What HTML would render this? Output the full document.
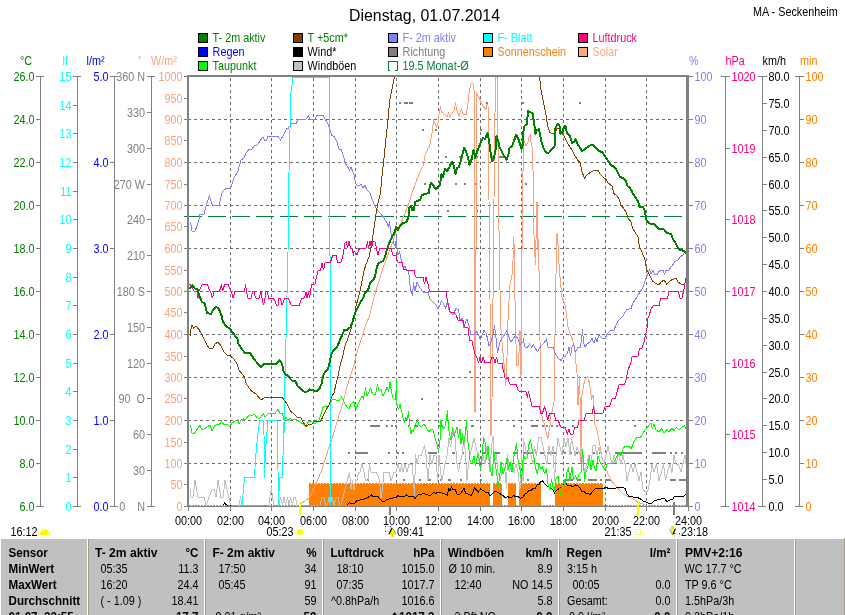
<!DOCTYPE html>
<html lang="de">
<head>
<meta charset="utf-8">
<title>Dienstag, 01.07.2014 - MA - Seckenheim</title>
<style>
html,body{margin:0;padding:0;background:#fff;}
body{width:845px;height:615px;overflow:hidden;position:relative;font-family:"Liberation Sans",sans-serif;}
svg{position:absolute;left:0;top:0;display:block;font-family:"Liberation Sans",sans-serif;font-size:12.5px;}
svg rect,svg line{shape-rendering:crispEdges;}
svg polyline,svg path{shape-rendering:crispEdges;fill:none;}
</style>
</head>
<body>
<svg width="845" height="615" viewBox="0 0 845 615">
<rect x="0" y="0" width="845" height="615" fill="#fff"/>
<text x="349" y="21" fill="#000" font-size="16" textLength="151" lengthAdjust="spacingAndGlyphs">Dienstag, 01.07.2014</text>
<text transform="translate(753 16) scale(0.865 1)" fill="#000">MA - Seckenheim</text>
<rect x="198" y="33" width="10" height="10" fill="#000"/>
<rect x="199" y="34" width="8" height="8" fill="#008000"/>
<text transform="translate(212.6 42) scale(0.865 1)" fill="#008000">T- 2m aktiv</text>
<rect x="293" y="33" width="10" height="10" fill="#000"/>
<rect x="294" y="34" width="8" height="8" fill="#804000"/>
<text transform="translate(307.6 42) scale(0.865 1)" fill="#008000">T +5cm*</text>
<rect x="388" y="33" width="10" height="10" fill="#000"/>
<rect x="389" y="34" width="8" height="8" fill="#8080ff"/>
<text transform="translate(402.6 42) scale(0.865 1)" fill="#8080ff">F- 2m aktiv</text>
<rect x="483" y="33" width="10" height="10" fill="#000"/>
<rect x="484" y="34" width="8" height="8" fill="#00ffff"/>
<text transform="translate(497.6 42) scale(0.865 1)" fill="#00ffff">F- Blatt</text>
<rect x="578" y="33" width="10" height="10" fill="#000"/>
<rect x="579" y="34" width="8" height="8" fill="#ff0080"/>
<text transform="translate(592.6 42) scale(0.865 1)" fill="#ff0080">Luftdruck</text>
<rect x="198" y="47" width="10" height="10" fill="#000"/>
<rect x="199" y="48" width="8" height="8" fill="#0000ff"/>
<text transform="translate(212.6 56) scale(0.865 1)" fill="#0000ff">Regen</text>
<rect x="293" y="47" width="10" height="10" fill="#000"/>
<rect x="294" y="48" width="8" height="8" fill="#000000"/>
<text transform="translate(307.6 56) scale(0.865 1)" fill="#000000">Wind*</text>
<rect x="388" y="47" width="10" height="10" fill="#000"/>
<rect x="389" y="48" width="8" height="8" fill="#808080"/>
<text transform="translate(402.6 56) scale(0.865 1)" fill="#808080">Richtung</text>
<rect x="483" y="47" width="10" height="10" fill="#000"/>
<rect x="484" y="48" width="8" height="8" fill="#ff8000"/>
<text transform="translate(497.6 56) scale(0.865 1)" fill="#ff8000">Sonnenschein</text>
<rect x="578" y="47" width="10" height="10" fill="#000"/>
<rect x="579" y="48" width="8" height="8" fill="#ffa87c"/>
<text transform="translate(592.6 56) scale(0.865 1)" fill="#ffa87c">Solar</text>
<rect x="198" y="61" width="10" height="10" fill="#000"/>
<rect x="199" y="62" width="8" height="8" fill="#00ff00"/>
<text transform="translate(212.6 70) scale(0.865 1)" fill="#008000">Taupunkt</text>
<rect x="293" y="61" width="10" height="10" fill="#000"/>
<rect x="294" y="62" width="8" height="8" fill="#c0c0c0"/>
<text transform="translate(307.6 70) scale(0.865 1)" fill="#000000">Windböen</text>
<rect x="388" y="61" width="10" height="1" fill="#008040"/>
<rect x="388" y="61" width="1" height="10" fill="#008040"/>
<rect x="397" y="61" width="1" height="10" fill="#008040"/>
<rect x="388" y="70" width="2" height="1" fill="#008040"/>
<rect x="395" y="70" width="3" height="1" fill="#008040"/>
<text transform="translate(402.6 70) scale(0.865 1)" fill="#008040">19.5 Monat-Ø</text>
<rect x="40" y="76" width="1" height="431" fill="#808080"/>
<rect x="36" y="76" width="8" height="1" fill="#808080"/>
<text transform="translate(34.5 81) scale(0.865 1)" fill="#008000" text-anchor="end">26.0</text>
<rect x="36" y="119" width="4" height="1" fill="#808080"/>
<text transform="translate(34.5 124) scale(0.865 1)" fill="#008000" text-anchor="end">24.0</text>
<rect x="36" y="162" width="4" height="1" fill="#808080"/>
<text transform="translate(34.5 167) scale(0.865 1)" fill="#008000" text-anchor="end">22.0</text>
<rect x="36" y="205" width="4" height="1" fill="#808080"/>
<text transform="translate(34.5 210) scale(0.865 1)" fill="#008000" text-anchor="end">20.0</text>
<rect x="36" y="248" width="4" height="1" fill="#808080"/>
<text transform="translate(34.5 253) scale(0.865 1)" fill="#008000" text-anchor="end">18.0</text>
<rect x="36" y="291" width="4" height="1" fill="#808080"/>
<text transform="translate(34.5 296) scale(0.865 1)" fill="#008000" text-anchor="end">16.0</text>
<rect x="36" y="334" width="4" height="1" fill="#808080"/>
<text transform="translate(34.5 339) scale(0.865 1)" fill="#008000" text-anchor="end">14.0</text>
<rect x="36" y="377" width="4" height="1" fill="#808080"/>
<text transform="translate(34.5 382) scale(0.865 1)" fill="#008000" text-anchor="end">12.0</text>
<rect x="36" y="420" width="4" height="1" fill="#808080"/>
<text transform="translate(34.5 425) scale(0.865 1)" fill="#008000" text-anchor="end">10.0</text>
<rect x="36" y="463" width="4" height="1" fill="#808080"/>
<text transform="translate(34.5 468) scale(0.865 1)" fill="#008000" text-anchor="end">8.0</text>
<rect x="36" y="506" width="8" height="1" fill="#808080"/>
<text transform="translate(34.5 511) scale(0.865 1)" fill="#008000" text-anchor="end">6.0</text>
<rect x="77" y="76" width="1" height="431" fill="#808080"/>
<rect x="73" y="76" width="8" height="1" fill="#808080"/>
<text transform="translate(71.5 81) scale(0.865 1)" fill="#00ffff" text-anchor="end">15</text>
<rect x="73" y="105" width="4" height="1" fill="#808080"/>
<text transform="translate(71.5 110) scale(0.865 1)" fill="#00ffff" text-anchor="end">14</text>
<rect x="73" y="133" width="4" height="1" fill="#808080"/>
<text transform="translate(71.5 138) scale(0.865 1)" fill="#00ffff" text-anchor="end">13</text>
<rect x="73" y="162" width="4" height="1" fill="#808080"/>
<text transform="translate(71.5 167) scale(0.865 1)" fill="#00ffff" text-anchor="end">12</text>
<rect x="73" y="191" width="4" height="1" fill="#808080"/>
<text transform="translate(71.5 196) scale(0.865 1)" fill="#00ffff" text-anchor="end">11</text>
<rect x="73" y="219" width="4" height="1" fill="#808080"/>
<text transform="translate(71.5 224) scale(0.865 1)" fill="#00ffff" text-anchor="end">10</text>
<rect x="73" y="248" width="4" height="1" fill="#808080"/>
<text transform="translate(71.5 253) scale(0.865 1)" fill="#00ffff" text-anchor="end">9</text>
<rect x="73" y="277" width="4" height="1" fill="#808080"/>
<text transform="translate(71.5 282) scale(0.865 1)" fill="#00ffff" text-anchor="end">8</text>
<rect x="73" y="305" width="4" height="1" fill="#808080"/>
<text transform="translate(71.5 310) scale(0.865 1)" fill="#00ffff" text-anchor="end">7</text>
<rect x="73" y="334" width="4" height="1" fill="#808080"/>
<text transform="translate(71.5 339) scale(0.865 1)" fill="#00ffff" text-anchor="end">6</text>
<rect x="73" y="363" width="4" height="1" fill="#808080"/>
<text transform="translate(71.5 368) scale(0.865 1)" fill="#00ffff" text-anchor="end">5</text>
<rect x="73" y="391" width="4" height="1" fill="#808080"/>
<text transform="translate(71.5 396) scale(0.865 1)" fill="#00ffff" text-anchor="end">4</text>
<rect x="73" y="420" width="4" height="1" fill="#808080"/>
<text transform="translate(71.5 425) scale(0.865 1)" fill="#00ffff" text-anchor="end">3</text>
<rect x="73" y="449" width="4" height="1" fill="#808080"/>
<text transform="translate(71.5 454) scale(0.865 1)" fill="#00ffff" text-anchor="end">2</text>
<rect x="73" y="477" width="4" height="1" fill="#808080"/>
<text transform="translate(71.5 482) scale(0.865 1)" fill="#00ffff" text-anchor="end">1</text>
<rect x="73" y="506" width="8" height="1" fill="#808080"/>
<text transform="translate(71.5 511) scale(0.865 1)" fill="#00ffff" text-anchor="end">0</text>
<rect x="114" y="76" width="1" height="431" fill="#808080"/>
<rect x="110" y="76" width="8" height="1" fill="#808080"/>
<text transform="translate(108.5 81) scale(0.865 1)" fill="#0000ff" text-anchor="end">5.0</text>
<rect x="110" y="162" width="4" height="1" fill="#808080"/>
<text transform="translate(108.5 167) scale(0.865 1)" fill="#0000ff" text-anchor="end">4.0</text>
<rect x="110" y="248" width="4" height="1" fill="#808080"/>
<text transform="translate(108.5 253) scale(0.865 1)" fill="#0000ff" text-anchor="end">3.0</text>
<rect x="110" y="334" width="4" height="1" fill="#808080"/>
<text transform="translate(108.5 339) scale(0.865 1)" fill="#0000ff" text-anchor="end">2.0</text>
<rect x="110" y="420" width="4" height="1" fill="#808080"/>
<text transform="translate(108.5 425) scale(0.865 1)" fill="#0000ff" text-anchor="end">1.0</text>
<rect x="110" y="506" width="8" height="1" fill="#808080"/>
<text transform="translate(108.5 511) scale(0.865 1)" fill="#0000ff" text-anchor="end">0.0</text>
<rect x="151" y="76" width="1" height="431" fill="#808080"/>
<rect x="147" y="76" width="8" height="1" fill="#808080"/>
<text transform="translate(145 81) scale(0.865 1)" fill="#808080" text-anchor="end">360 N</text>
<rect x="147" y="112" width="4" height="1" fill="#808080"/>
<text transform="translate(145 117) scale(0.865 1)" fill="#808080" text-anchor="end">330</text>
<rect x="147" y="148" width="4" height="1" fill="#808080"/>
<text transform="translate(145 153) scale(0.865 1)" fill="#808080" text-anchor="end">300</text>
<rect x="147" y="184" width="4" height="1" fill="#808080"/>
<text transform="translate(145 189) scale(0.865 1)" fill="#808080" text-anchor="end">270 W</text>
<rect x="147" y="219" width="4" height="1" fill="#808080"/>
<text transform="translate(145 224) scale(0.865 1)" fill="#808080" text-anchor="end">240</text>
<rect x="147" y="255" width="4" height="1" fill="#808080"/>
<text transform="translate(145 260) scale(0.865 1)" fill="#808080" text-anchor="end">210</text>
<rect x="147" y="291" width="4" height="1" fill="#808080"/>
<text transform="translate(145 296) scale(0.865 1)" fill="#808080" text-anchor="end">180 S</text>
<rect x="147" y="327" width="4" height="1" fill="#808080"/>
<text transform="translate(145 332) scale(0.865 1)" fill="#808080" text-anchor="end">150</text>
<rect x="147" y="363" width="4" height="1" fill="#808080"/>
<text transform="translate(145 368) scale(0.865 1)" fill="#808080" text-anchor="end">120</text>
<rect x="147" y="398" width="4" height="1" fill="#808080"/>
<text transform="translate(145 403) scale(0.865 1)" fill="#808080" text-anchor="end">90  O</text>
<rect x="147" y="434" width="4" height="1" fill="#808080"/>
<text transform="translate(145 439) scale(0.865 1)" fill="#808080" text-anchor="end">60</text>
<rect x="147" y="470" width="4" height="1" fill="#808080"/>
<text transform="translate(145 475) scale(0.865 1)" fill="#808080" text-anchor="end">30</text>
<rect x="147" y="506" width="8" height="1" fill="#808080"/>
<text transform="translate(145 511) scale(0.865 1)" fill="#808080" text-anchor="end">0    N</text>
<rect x="184" y="76" width="4" height="1" fill="#808080"/>
<text transform="translate(182.5 81) scale(0.865 1)" fill="#ffa07a" text-anchor="end">1000</text>
<rect x="184" y="98" width="4" height="1" fill="#808080"/>
<text transform="translate(182.5 103) scale(0.865 1)" fill="#ffa07a" text-anchor="end">950</text>
<rect x="184" y="119" width="4" height="1" fill="#808080"/>
<text transform="translate(182.5 124) scale(0.865 1)" fill="#ffa07a" text-anchor="end">900</text>
<rect x="184" y="140" width="4" height="1" fill="#808080"/>
<text transform="translate(182.5 145) scale(0.865 1)" fill="#ffa07a" text-anchor="end">850</text>
<rect x="184" y="162" width="4" height="1" fill="#808080"/>
<text transform="translate(182.5 167) scale(0.865 1)" fill="#ffa07a" text-anchor="end">800</text>
<rect x="184" y="184" width="4" height="1" fill="#808080"/>
<text transform="translate(182.5 189) scale(0.865 1)" fill="#ffa07a" text-anchor="end">750</text>
<rect x="184" y="205" width="4" height="1" fill="#808080"/>
<text transform="translate(182.5 210) scale(0.865 1)" fill="#ffa07a" text-anchor="end">700</text>
<rect x="184" y="226" width="4" height="1" fill="#808080"/>
<text transform="translate(182.5 231) scale(0.865 1)" fill="#ffa07a" text-anchor="end">650</text>
<rect x="184" y="248" width="4" height="1" fill="#808080"/>
<text transform="translate(182.5 253) scale(0.865 1)" fill="#ffa07a" text-anchor="end">600</text>
<rect x="184" y="270" width="4" height="1" fill="#808080"/>
<text transform="translate(182.5 275) scale(0.865 1)" fill="#ffa07a" text-anchor="end">550</text>
<rect x="184" y="291" width="4" height="1" fill="#808080"/>
<text transform="translate(182.5 296) scale(0.865 1)" fill="#ffa07a" text-anchor="end">500</text>
<rect x="184" y="312" width="4" height="1" fill="#808080"/>
<text transform="translate(182.5 317) scale(0.865 1)" fill="#ffa07a" text-anchor="end">450</text>
<rect x="184" y="334" width="4" height="1" fill="#808080"/>
<text transform="translate(182.5 339) scale(0.865 1)" fill="#ffa07a" text-anchor="end">400</text>
<rect x="184" y="356" width="4" height="1" fill="#808080"/>
<text transform="translate(182.5 361) scale(0.865 1)" fill="#ffa07a" text-anchor="end">350</text>
<rect x="184" y="377" width="4" height="1" fill="#808080"/>
<text transform="translate(182.5 382) scale(0.865 1)" fill="#ffa07a" text-anchor="end">300</text>
<rect x="184" y="398" width="4" height="1" fill="#808080"/>
<text transform="translate(182.5 403) scale(0.865 1)" fill="#ffa07a" text-anchor="end">250</text>
<rect x="184" y="420" width="4" height="1" fill="#808080"/>
<text transform="translate(182.5 425) scale(0.865 1)" fill="#ffa07a" text-anchor="end">200</text>
<rect x="184" y="442" width="4" height="1" fill="#808080"/>
<text transform="translate(182.5 447) scale(0.865 1)" fill="#ffa07a" text-anchor="end">150</text>
<rect x="184" y="463" width="4" height="1" fill="#808080"/>
<text transform="translate(182.5 468) scale(0.865 1)" fill="#ffa07a" text-anchor="end">100</text>
<rect x="184" y="484" width="4" height="1" fill="#808080"/>
<text transform="translate(182.5 489) scale(0.865 1)" fill="#ffa07a" text-anchor="end">50</text>
<rect x="184" y="506" width="4" height="1" fill="#808080"/>
<text transform="translate(182.5 511) scale(0.865 1)" fill="#ffa07a" text-anchor="end">0</text>
<text transform="translate(20 65) scale(0.865 1)" fill="#008000">°C</text>
<text transform="translate(62.5 65) scale(0.865 1)" fill="#00ffff">lf</text>
<text transform="translate(86.5 65) scale(0.865 1)" fill="#0000ff">l/m²</text>
<text x="138" y="62" fill="#808080" font-size="8">°</text>
<text transform="translate(151 65) scale(0.865 1)" fill="#ffa07a">W/m²</text>
<text transform="translate(689 65) scale(0.865 1)" fill="#8080ff">%</text>
<text transform="translate(725.5 65) scale(0.865 1)" fill="#ff0080">hPa</text>
<text transform="translate(762.5 65) scale(0.865 1)" fill="#000">km/h</text>
<text transform="translate(800 65) scale(0.865 1)" fill="#ff8000">min</text>
<rect x="688" y="76" width="5" height="1" fill="#808080"/>
<text transform="translate(694.5 81) scale(0.865 1)" fill="#8080ff">100</text>
<rect x="688" y="119" width="5" height="1" fill="#808080"/>
<text transform="translate(694.5 124) scale(0.865 1)" fill="#8080ff">90</text>
<rect x="688" y="162" width="5" height="1" fill="#808080"/>
<text transform="translate(694.5 167) scale(0.865 1)" fill="#8080ff">80</text>
<rect x="688" y="205" width="5" height="1" fill="#808080"/>
<text transform="translate(694.5 210) scale(0.865 1)" fill="#8080ff">70</text>
<rect x="688" y="248" width="5" height="1" fill="#808080"/>
<text transform="translate(694.5 253) scale(0.865 1)" fill="#8080ff">60</text>
<rect x="688" y="291" width="5" height="1" fill="#808080"/>
<text transform="translate(694.5 296) scale(0.865 1)" fill="#8080ff">50</text>
<rect x="688" y="334" width="5" height="1" fill="#808080"/>
<text transform="translate(694.5 339) scale(0.865 1)" fill="#8080ff">40</text>
<rect x="688" y="377" width="5" height="1" fill="#808080"/>
<text transform="translate(694.5 382) scale(0.865 1)" fill="#8080ff">30</text>
<rect x="688" y="420" width="5" height="1" fill="#808080"/>
<text transform="translate(694.5 425) scale(0.865 1)" fill="#8080ff">20</text>
<rect x="688" y="463" width="5" height="1" fill="#808080"/>
<text transform="translate(694.5 468) scale(0.865 1)" fill="#8080ff">10</text>
<rect x="688" y="506" width="4" height="1" fill="#808080"/>
<text transform="translate(694.5 511) scale(0.865 1)" fill="#8080ff">0</text>
<rect x="725" y="76" width="1" height="431" fill="#808080"/>
<rect x="721" y="76" width="9" height="1" fill="#808080"/>
<text transform="translate(731.5 81) scale(0.865 1)" fill="#ff0080">1020</text>
<rect x="725" y="148" width="5" height="1" fill="#808080"/>
<text transform="translate(731.5 153) scale(0.865 1)" fill="#ff0080">1019</text>
<rect x="725" y="219" width="5" height="1" fill="#808080"/>
<text transform="translate(731.5 224) scale(0.865 1)" fill="#ff0080">1018</text>
<rect x="725" y="291" width="5" height="1" fill="#808080"/>
<text transform="translate(731.5 296) scale(0.865 1)" fill="#ff0080">1017</text>
<rect x="725" y="363" width="5" height="1" fill="#808080"/>
<text transform="translate(731.5 368) scale(0.865 1)" fill="#ff0080">1016</text>
<rect x="725" y="434" width="5" height="1" fill="#808080"/>
<text transform="translate(731.5 439) scale(0.865 1)" fill="#ff0080">1015</text>
<rect x="721" y="506" width="8" height="1" fill="#808080"/>
<text transform="translate(731.5 511) scale(0.865 1)" fill="#ff0080">1014</text>
<rect x="762" y="76" width="1" height="431" fill="#808080"/>
<rect x="758" y="76" width="9" height="1" fill="#808080"/>
<text transform="translate(768.5 81) scale(0.865 1)" fill="#000">80.0</text>
<rect x="762" y="103" width="5" height="1" fill="#808080"/>
<text transform="translate(768.5 108) scale(0.865 1)" fill="#000">75.0</text>
<rect x="762" y="130" width="5" height="1" fill="#808080"/>
<text transform="translate(768.5 135) scale(0.865 1)" fill="#000">70.0</text>
<rect x="762" y="157" width="5" height="1" fill="#808080"/>
<text transform="translate(768.5 162) scale(0.865 1)" fill="#000">65.0</text>
<rect x="762" y="184" width="5" height="1" fill="#808080"/>
<text transform="translate(768.5 189) scale(0.865 1)" fill="#000">60.0</text>
<rect x="762" y="210" width="5" height="1" fill="#808080"/>
<text transform="translate(768.5 215) scale(0.865 1)" fill="#000">55.0</text>
<rect x="762" y="237" width="5" height="1" fill="#808080"/>
<text transform="translate(768.5 242) scale(0.865 1)" fill="#000">50.0</text>
<rect x="762" y="264" width="5" height="1" fill="#808080"/>
<text transform="translate(768.5 269) scale(0.865 1)" fill="#000">45.0</text>
<rect x="762" y="291" width="5" height="1" fill="#808080"/>
<text transform="translate(768.5 296) scale(0.865 1)" fill="#000">40.0</text>
<rect x="762" y="318" width="5" height="1" fill="#808080"/>
<text transform="translate(768.5 323) scale(0.865 1)" fill="#000">35.0</text>
<rect x="762" y="345" width="5" height="1" fill="#808080"/>
<text transform="translate(768.5 350) scale(0.865 1)" fill="#000">30.0</text>
<rect x="762" y="372" width="5" height="1" fill="#808080"/>
<text transform="translate(768.5 377) scale(0.865 1)" fill="#000">25.0</text>
<rect x="762" y="398" width="5" height="1" fill="#808080"/>
<text transform="translate(768.5 403) scale(0.865 1)" fill="#000">20.0</text>
<rect x="762" y="425" width="5" height="1" fill="#808080"/>
<text transform="translate(768.5 430) scale(0.865 1)" fill="#000">15.0</text>
<rect x="762" y="452" width="5" height="1" fill="#808080"/>
<text transform="translate(768.5 457) scale(0.865 1)" fill="#000">10.0</text>
<rect x="762" y="479" width="5" height="1" fill="#808080"/>
<text transform="translate(768.5 484) scale(0.865 1)" fill="#000">5.0</text>
<rect x="758" y="506" width="8" height="1" fill="#808080"/>
<text transform="translate(768.5 511) scale(0.865 1)" fill="#000">0.0</text>
<rect x="799" y="76" width="1" height="431" fill="#808080"/>
<rect x="795" y="76" width="9" height="1" fill="#808080"/>
<text transform="translate(805.5 81) scale(0.865 1)" fill="#ff8000">100</text>
<rect x="799" y="119" width="5" height="1" fill="#808080"/>
<text transform="translate(805.5 124) scale(0.865 1)" fill="#ff8000">90</text>
<rect x="799" y="162" width="5" height="1" fill="#808080"/>
<text transform="translate(805.5 167) scale(0.865 1)" fill="#ff8000">80</text>
<rect x="799" y="205" width="5" height="1" fill="#808080"/>
<text transform="translate(805.5 210) scale(0.865 1)" fill="#ff8000">70</text>
<rect x="799" y="248" width="5" height="1" fill="#808080"/>
<text transform="translate(805.5 253) scale(0.865 1)" fill="#ff8000">60</text>
<rect x="799" y="291" width="5" height="1" fill="#808080"/>
<text transform="translate(805.5 296) scale(0.865 1)" fill="#ff8000">50</text>
<rect x="799" y="334" width="5" height="1" fill="#808080"/>
<text transform="translate(805.5 339) scale(0.865 1)" fill="#ff8000">40</text>
<rect x="799" y="377" width="5" height="1" fill="#808080"/>
<text transform="translate(805.5 382) scale(0.865 1)" fill="#ff8000">30</text>
<rect x="799" y="420" width="5" height="1" fill="#808080"/>
<text transform="translate(805.5 425) scale(0.865 1)" fill="#ff8000">20</text>
<rect x="799" y="463" width="5" height="1" fill="#808080"/>
<text transform="translate(805.5 468) scale(0.865 1)" fill="#ff8000">10</text>
<rect x="795" y="506" width="8" height="1" fill="#808080"/>
<text transform="translate(805.5 511) scale(0.865 1)" fill="#ff8000">0</text>
<g id="grid">
<line x1="188" y1="119.5" x2="686" y2="119.5" stroke="#6c6c6c" stroke-width="1" stroke-dasharray="3 3"/>
<line x1="188" y1="162.5" x2="686" y2="162.5" stroke="#6c6c6c" stroke-width="1" stroke-dasharray="3 3"/>
<line x1="188" y1="205.5" x2="686" y2="205.5" stroke="#6c6c6c" stroke-width="1" stroke-dasharray="3 3"/>
<line x1="188" y1="248.5" x2="686" y2="248.5" stroke="#6c6c6c" stroke-width="1" stroke-dasharray="3 3"/>
<line x1="188" y1="291.5" x2="686" y2="291.5" stroke="#6c6c6c" stroke-width="1" stroke-dasharray="3 3"/>
<line x1="188" y1="334.5" x2="686" y2="334.5" stroke="#6c6c6c" stroke-width="1" stroke-dasharray="3 3"/>
<line x1="188" y1="377.5" x2="686" y2="377.5" stroke="#6c6c6c" stroke-width="1" stroke-dasharray="3 3"/>
<line x1="188" y1="420.5" x2="686" y2="420.5" stroke="#6c6c6c" stroke-width="1" stroke-dasharray="3 3"/>
<line x1="188" y1="463.5" x2="686" y2="463.5" stroke="#6c6c6c" stroke-width="1" stroke-dasharray="3 3"/>
<line x1="230.5" y1="78" x2="230.5" y2="506" stroke="#6c6c6c" stroke-width="1" stroke-dasharray="3 3"/>
<line x1="271.5" y1="78" x2="271.5" y2="506" stroke="#6c6c6c" stroke-width="1" stroke-dasharray="3 3"/>
<line x1="313.5" y1="78" x2="313.5" y2="506" stroke="#6c6c6c" stroke-width="1" stroke-dasharray="3 3"/>
<line x1="355.5" y1="78" x2="355.5" y2="506" stroke="#6c6c6c" stroke-width="1" stroke-dasharray="3 3"/>
<line x1="396.5" y1="78" x2="396.5" y2="506" stroke="#6c6c6c" stroke-width="1" stroke-dasharray="3 3"/>
<line x1="438.5" y1="78" x2="438.5" y2="506" stroke="#6c6c6c" stroke-width="1" stroke-dasharray="3 3"/>
<line x1="480.5" y1="78" x2="480.5" y2="506" stroke="#6c6c6c" stroke-width="1" stroke-dasharray="3 3"/>
<line x1="521.5" y1="78" x2="521.5" y2="506" stroke="#6c6c6c" stroke-width="1" stroke-dasharray="3 3"/>
<line x1="563.5" y1="78" x2="563.5" y2="506" stroke="#6c6c6c" stroke-width="1" stroke-dasharray="3 3"/>
<line x1="605.5" y1="78" x2="605.5" y2="506" stroke="#6c6c6c" stroke-width="1" stroke-dasharray="3 3"/>
<line x1="646.5" y1="78" x2="646.5" y2="506" stroke="#6c6c6c" stroke-width="1" stroke-dasharray="3 3"/>
</g>
<g id="curves">
<rect x="309" y="484" width="181" height="22" fill="#ff8000"/>
<line x1="309" y1="483.5" x2="490" y2="483.5" stroke="#ff8000" stroke-width="1" stroke-dasharray="2 1"/>
<rect x="493" y="484" width="9" height="22" fill="#ff8000"/>
<line x1="493" y1="483.5" x2="502" y2="483.5" stroke="#ff8000" stroke-width="1" stroke-dasharray="2 1"/>
<rect x="508" y="484" width="8" height="22" fill="#ff8000"/>
<line x1="508" y1="483.5" x2="516" y2="483.5" stroke="#ff8000" stroke-width="1" stroke-dasharray="2 1"/>
<rect x="519" y="484" width="22" height="22" fill="#ff8000"/>
<line x1="519" y1="483.5" x2="541" y2="483.5" stroke="#ff8000" stroke-width="1" stroke-dasharray="2 1"/>
<rect x="555" y="484" width="48" height="22" fill="#ff8000"/>
<line x1="555" y1="483.5" x2="603" y2="483.5" stroke="#ff8000" stroke-width="1" stroke-dasharray="2 1"/>
<line x1="184" y1="216.5" x2="683" y2="216.5" stroke="#008040" stroke-width="1" stroke-dasharray="18 6"/>
<rect x="399" y="102" width="2" height="2" fill="#808080"/>
<rect x="404" y="102" width="4" height="2" fill="#808080"/>
<rect x="409" y="102" width="4" height="2" fill="#808080"/>
<rect x="480" y="102" width="2" height="2" fill="#808080"/>
<rect x="486" y="102" width="2" height="2" fill="#808080"/>
<rect x="522" y="102" width="2" height="2" fill="#808080"/>
<rect x="579" y="102" width="2" height="2" fill="#808080"/>
<rect x="422" y="129" width="2" height="2" fill="#808080"/>
<rect x="435" y="129" width="2" height="2" fill="#808080"/>
<rect x="480" y="129" width="2" height="2" fill="#808080"/>
<rect x="445" y="156" width="2" height="2" fill="#808080"/>
<rect x="459" y="156" width="2" height="2" fill="#808080"/>
<rect x="476" y="156" width="2" height="2" fill="#808080"/>
<rect x="491" y="156" width="2" height="2" fill="#808080"/>
<rect x="498" y="156" width="6" height="2" fill="#808080"/>
<rect x="424" y="183" width="2" height="2" fill="#808080"/>
<rect x="455" y="183" width="2" height="2" fill="#808080"/>
<rect x="464" y="183" width="2" height="2" fill="#808080"/>
<rect x="474" y="183" width="2" height="2" fill="#808080"/>
<rect x="525" y="183" width="2" height="2" fill="#808080"/>
<rect x="447" y="210" width="2" height="2" fill="#808080"/>
<rect x="476" y="210" width="2" height="2" fill="#808080"/>
<rect x="469" y="371" width="2" height="2" fill="#808080"/>
<rect x="421" y="398" width="2" height="2" fill="#808080"/>
<rect x="370" y="425" width="10" height="2" fill="#808080"/>
<rect x="386" y="425" width="2" height="2" fill="#808080"/>
<rect x="391" y="425" width="2" height="2" fill="#808080"/>
<rect x="395" y="425" width="2" height="2" fill="#808080"/>
<rect x="408" y="425" width="2" height="2" fill="#808080"/>
<rect x="415" y="425" width="3" height="2" fill="#808080"/>
<rect x="438" y="425" width="5" height="2" fill="#808080"/>
<rect x="471" y="425" width="3" height="2" fill="#808080"/>
<rect x="513" y="425" width="2" height="2" fill="#808080"/>
<rect x="531" y="425" width="7" height="2" fill="#808080"/>
<rect x="542" y="425" width="2" height="2" fill="#808080"/>
<rect x="546" y="425" width="2" height="2" fill="#808080"/>
<rect x="551" y="425" width="2" height="2" fill="#808080"/>
<rect x="556" y="425" width="2" height="2" fill="#808080"/>
<rect x="572" y="425" width="2" height="2" fill="#808080"/>
<rect x="634" y="425" width="2" height="2" fill="#808080"/>
<rect x="348" y="452" width="2" height="2" fill="#808080"/>
<rect x="355" y="452" width="13" height="2" fill="#808080"/>
<rect x="388" y="452" width="2" height="2" fill="#808080"/>
<rect x="397" y="452" width="2" height="2" fill="#808080"/>
<rect x="402" y="452" width="2" height="2" fill="#808080"/>
<rect x="428" y="452" width="9" height="2" fill="#808080"/>
<rect x="452" y="452" width="3" height="2" fill="#808080"/>
<rect x="462" y="452" width="2" height="2" fill="#808080"/>
<rect x="482" y="452" width="6" height="2" fill="#808080"/>
<rect x="495" y="452" width="5" height="2" fill="#808080"/>
<rect x="513" y="452" width="4" height="2" fill="#808080"/>
<rect x="524" y="452" width="9" height="2" fill="#808080"/>
<rect x="535" y="452" width="2" height="2" fill="#808080"/>
<rect x="540" y="452" width="4" height="2" fill="#808080"/>
<rect x="547" y="452" width="9" height="2" fill="#808080"/>
<rect x="564" y="452" width="2" height="2" fill="#808080"/>
<rect x="570" y="452" width="2" height="2" fill="#808080"/>
<rect x="576" y="452" width="2" height="2" fill="#808080"/>
<rect x="593" y="452" width="2" height="2" fill="#808080"/>
<rect x="599" y="452" width="3" height="2" fill="#808080"/>
<rect x="615" y="452" width="27" height="2" fill="#808080"/>
<rect x="652" y="452" width="14" height="2" fill="#808080"/>
<rect x="670" y="452" width="2" height="2" fill="#808080"/>
<rect x="675" y="452" width="2" height="2" fill="#808080"/>
<rect x="681" y="452" width="2" height="2" fill="#808080"/>
<rect x="367" y="479" width="2" height="2" fill="#808080"/>
<rect x="403" y="479" width="2" height="2" fill="#808080"/>
<rect x="419" y="479" width="2" height="2" fill="#808080"/>
<rect x="428" y="479" width="3" height="2" fill="#808080"/>
<rect x="440" y="479" width="2" height="2" fill="#808080"/>
<rect x="448" y="479" width="3" height="2" fill="#808080"/>
<rect x="460" y="479" width="2" height="2" fill="#808080"/>
<rect x="480" y="479" width="2" height="2" fill="#808080"/>
<rect x="527" y="479" width="2" height="2" fill="#808080"/>
<rect x="564" y="479" width="9" height="2" fill="#808080"/>
<rect x="577" y="479" width="4" height="2" fill="#808080"/>
<rect x="588" y="479" width="9" height="2" fill="#808080"/>
<rect x="600" y="479" width="2" height="2" fill="#808080"/>
<rect x="605" y="479" width="6" height="2" fill="#808080"/>
<rect x="670" y="479" width="6" height="2" fill="#808080"/>
<rect x="679" y="479" width="7" height="2" fill="#808080"/>
<polyline points="299.5,504 303,502.5 309,498 315,486 321,472 325,460 330,444 332,439 337,422 343,402 349,380 354,365 356,356 359,346 363,334 366,324 369.5,316 374,297 379,281 383,268 388,255 393,241 397,229 401,223 405,213 409,203 412,193 416,182 420,172 423,166 425,156 428,148 429.5,147 431,138 432.5,130 433.5,120 435,123 436.5,128 438,123 439,114 440.5,107 441.5,112 444,114 447,117 448.5,113 450,116.5 452.5,113 454,111 455.5,103 457,111 459,116 460.5,112 461.5,109 463,114 466.5,114 468,103 469.5,90 471,84 473,83.5 474,90 474.5,412 475.5,412 476.5,92.5 477.5,95 479,97.5 481,102.5 483.5,107 486,109.5 487,104.5 488,105 489,200 490,300 490.5,400 491,436 492,400 493.5,250 494.5,150 495.5,77 497,77 497.5,90 498.5,200 500,290 501,330 504.5,370 505.5,386 506.5,375 508,320 509,300 510,285 512,275 513,260 513.5,237 514.5,250 515,300 516.5,365.5 518.5,365.5 520,330 521,377 521.5,300 522.5,200 523.5,143.5 524.5,142 526,145.5 528,142 529,137 530.5,134.5 531,142 532,147 533,170 533.5,220 534.5,249 535.5,265 536,240 537,202 537.5,250 538.5,240 539.5,300 540.5,380 541,412 543,420 544.5,425 546,432 548,438.5 548.5,433.5 550,425 551,415 552.5,410 554,402 554.5,370 555.5,300 556.5,250 557,233.5 558,245 559,264 559.5,270 560.5,283.5 562,297 564,302 565.5,307 567,318.5 568,327 569.5,332 572,338.5 573.5,343.5 575,352 576,364 577,373 577.5,392 578,405 579,386 579.5,377 580,395 580.5,445 581,462 581.5,440 582,395 584,383.5 585.5,378.5 587.5,376.5 589,381.5 590.5,390 591.5,400 593,395 594,407 595,425 596.5,428.5 598,435 600,446 602,458 605,466 608,474 611,480 614,484 617,487 620,491 623,494 627,496 631,498 635,500 638,502 641,503.5 645,504.5" stroke="#ffa07a" stroke-width="1" stroke-linejoin="round"/>
<polyline points="190,489 191,497 193,497 195,480.5 196.5,489 198,497 204,497.5 206,505 207.5,502 209,497 212,490 214,489 216,497 218,480.5 219.5,489 221,497.5 223,497.5 225,480.5 227,490 229,498 230.5,505 239,505 240.5,497 242,505 269,505 270,497 271.5,488 272.5,497 274,505 279,505 280.5,497.5 282.5,505 284,497.5 285.5,505 287.5,497.5 289,505 290.5,497.5 292.5,505 294,497.5 295.5,498 297,505 320,505 322,497.5 324,497.5 325.5,505 327.5,505 329,497.5 330.5,505 332,497.5 334,505 336,497.5 338,497.5 339.5,505 341,505 343,497.5 345,489 347,481 349.5,472.5 351,489 352.5,480.5 354,490 354,489 355.5,480 357,480.5 358.5,472 360,472 362,464 364,472 365.5,480.5 368,480.5 369.5,464 371,472 376,472.5 378,476 379.5,480.5 381,498 382.5,489 384,472.5 389,472.5 391,480.5 394,472.5 396,472 398,464 400,472 401.5,464 403,472 405,464 407,472 409,464 412,464 413.5,480.5 414.5,496 415.5,455 417,463.5 419,455 421,455.5 423,450 424.5,446 426,455 428,480.5 430,455 432,464 434,455 436,455.5 437.5,480.5 439,455 440.5,472 442,480.5 443.5,472 445,464 447,455.5 449,438 450.5,447 452,438 453.5,429 455,438 457,464 458.5,472 460,464 462,455 464,438 465.5,455 467,480.5 468.5,464 470,455 472,447 474,438 476,447 478,455.5 480.5,470 483,455.5 485,464 487,447 488.5,455.5 490,472 491.5,447 493,436 494,464 496.5,455 498,472 500,480.5 502,472 503.5,464 505,472 506.5,489 507.5,455 509.5,472 512,464 514,472.5 516,464 518,472.5 520,489 521.5,455 523,480.5 523,438 525,446 527,455 529,447 531,455 533,464 534.5,447 536.5,456 538.5,438 541,437 543,446 545,455.5 547,464 549,446 551,455.5 553,446 554.5,480.5 556,456 558,438 560,447 562,455 564,438 566,447 568,438 570,455 571.5,438 573,446 575,455.5 577,447 579.5,455 581,447 583,464 585,472 587,463.5 589,455.5 591,464 593,446 595,445.5 597,455 599,447 601.5,455.5 604,464 606,455 608,446 610,455 612,464 614,455.5 616,463 618.5,455 621,464 623,455.5 625,464 627,480.5 629,472 631,464 633,472 635,464 637,472 639,480.5 641,472 643,489 646,493 648,490 650,480.5 652,464 654,472 656.5,464 659,480.5 661.5,472 663.5,464 665.5,480 667.5,472 670,464 672,472.5 674,455 676,464 678.5,464 681,472 683,463.5 685,455 686,464" stroke="#c0c0c0" stroke-width="1" stroke-linejoin="round"/>
<polyline points="223.5,505 224.5,503 226.5,505 233,505" stroke="#000000" stroke-width="1" stroke-linejoin="round"/>
<polyline points="347,505 349.5,502.5 352,504 354,503.5 354,504 356.5,501 360,500 364,499 368,497.5 370,496 371.5,495 373,496.5 375,496 378,496.5 381,500 383.5,502 386,500 389,499 393,498 396,497.5 398,495.5 400,497 402,496 404,496.5 406.5,495 408.5,496.5 411,496 413.5,496.5 415,499 416.5,496.5 418.5,494.5 421,495 423,493 425,494 427.5,494.5 429.5,496 432,494 434,492.5 436,493.5 438,492 440.5,492.5 443,493.5 445,494 447.5,495 448.5,489 450,491 451.5,487 453,490 455,489 457,494 459,495 461,493 463,490 464,488.5 465.5,493 468,494 471,495.5 473,492 474.5,488 476.5,490 478.5,492 480.5,489 482,490 484,491 486,493 488.5,492.5 490,496 492,494 494,492 496.5,491.5 499,493 502,495 504,496.5 506,498 508,496.5 510,498 512.5,496.5 514,495.5 516,497 518,496.5 520.5,498.5 523,497 523,497 525,494 527,493 529,490 531,491 533,488 535,489 537,485 539,484.5 540.5,481.5 542.5,481 544.5,483.5 547,486 550,487.5 553,490 554.5,493 556,491 558.5,489 561,487 563,485 565.5,483 568,486 571,485.5 573,487 575.5,485 578,486 580,488 582,492 584,491 586,494 588,493 590,495 592,492 594,490 596,488 598.5,489 601,488 603,489 606,487 609,489 612,488 615,489 617,487 620,488 623,487 625.5,489 627,494 629,496.5 633,497 637,497.5 640,498.5 643,501 646,502 649,503.5 651,504 654,501 657,500 661,499 664,498 667,501.5 670,500 673,499 674.5,496.5 678,497 681,496.5 684,496 686,494" stroke="#000000" stroke-width="1" stroke-linejoin="round"/>
<polyline points="242.5,505 243.5,486 245,477.5 254.5,477.5 255.5,458 257,442 259.5,420.5 263.5,420.5 264.5,450 264.5,477.5 265.5,450 268,420.5 277.5,420.5 278,470 278.5,505 279.5,478 282.5,477.5 283,456 284,434 285,410 283.5,439 284.5,406 285,376 285.5,362 286.5,316 288,253 288.5,193 290,130 290.5,96 292.5,82 292.5,77 329.5,77 329.5,193 330.5,316 330.5,505" stroke="#00ffff" stroke-width="1" stroke-linejoin="round"/>
<polyline points="190.5,425 192,433 194,434 196,431 198,428 200,425 201.5,430 204,429 207,427 210,425 212,431 214.5,426 217,424 219,425 221.5,421 224,425 227,424 229.5,426.5 232,423 235,421 237.5,420 239,424 241,420 243.5,419 245,420 247.5,417 249.5,414.5 252,416 254,414 256.5,417 259,419 261,417 263.5,413.5 265,417 268,414 271,413.5 275,413.5 278,409.5 280,413.5 282.5,414 284,420 286,417 288,421 290,418 292,420 294,419 297,420 300,422 303,424 305,426 307,424 309,421 312,422 315,424 317,422 319,420 321,414 323.5,406 326,406 327.5,408 329.5,404 332,400 334,399 336,400 338,401 339.5,400 341.5,397 343.5,401 345,404 347,407 349,409 351,404 354,401.5 354,404 356,409 358,404 360,400 362,396 363.5,399 365.5,388 367,396 369,392 370.5,387.5 372.5,394 375.5,394.5 377.5,385 379,391 381,389 383,396 385,392 387,387 388.5,392 390,382 391.5,392 393,398 395,400 396,391 396.5,380 397,404 398.5,410 400,404 401.5,411 403,418 404.5,422 405.5,418 407,420 408.5,412 409.5,424 411,434 412,430 413.5,431 415,425 417.5,420 419,425 421,427 424,424 426.5,428 429,432 431,429 433,430 435,438 435,438 437,444 438.5,452 440,440 441,420 443,429 445,426 446.5,418 447.5,411 448.5,428 450,436 451,440 452.5,428 454,436 455.5,431 457,427 458.5,438 460,429 461,444 462.5,434 463.5,445 465,436 466.5,421 467.5,438 469,450 470,460 472,464 474,456 475.5,466 477,458 478.5,454 480.5,470 482,456 483.5,438 485,442 486.5,460 488,446 490,468 492,476 494,452 495.5,466 497,476 498,487 499.5,478 501,462 503,474 505,468 507,458 508.5,470 510,462 512,472 514,456 516.5,444 518,460 520,470 521.5,482 523,460 523,452 525,459 527,458 528.5,446 530.5,440 532.5,452 534,458 535.5,468 537.5,474 539,463 540.5,469 542.5,467 544.5,474 546.5,469 548,484 550,490 551.5,480 553,487 554.5,490 556,479 558,476 559.5,488 560.5,495 562,486 564,481 565.5,486 567,472 568.5,468 570,480 572,467 573.5,480 575.5,476 577,480 579,474 581,472 582.5,450 583.5,460 584.5,482 586,472 588,466 589.5,456 591,470 593,460 594.5,468 596,471 598,456 600,462 602,465 604,468 605.5,470 607,464 610,463 613,464 615,460 617,456 619,453 621,456 623,449 625,446 627,447 629,446 631,449 633,444 635,440 637,437 640,438 642.5,434 645,430 647,428 649,425 651,423.5 652.5,428.5 654,424.5 656,430 659,432 661.5,428.5 664,433 666.5,430 669,431.5 672,428.5 674,430.5 676.5,427.5 679,430 682,427 684.5,426 686,428.5" stroke="#00ff00" stroke-width="1" stroke-linejoin="round"/>
<polyline points="190.5,222 192,231 195,231 197.5,225 200,214.5 204,214 206.5,204 209.5,196 212.5,205.5 219,205.5 222,193 222,192 226,188.5 230.5,188 234,178 238,171 241,160 244,158 246,153 249,149.5 252,149 254.5,145.5 257.5,145 260.5,140 263,137 265,140.5 266.5,140 268,136.5 278,136.5 280.5,140 284,134 286.5,129 289.5,127.5 291,123.5 296,123.5 298,119.5 306.5,119 308.5,115.5 310,119 315,119.5 316.5,116 323,115.5 325,119 327.5,123 329.5,128 331.5,135 334.5,137 337,142 339,149 341.5,150 344,158 345,163 347,166 349.5,170 351,167 353,172 354,175 356,184 358,186 361,184.5 363,188 365,185 367,190 370,193 370,193 372,199 375,206 378,211 381,214 384,218 387,223 388.5,227 389.5,222 391,233 392.5,237 394,244 395.5,247 396.5,236 397,248 398,255 399.5,252 401,259 402.5,263 403.5,269 405,266 406.5,271 408,270 409.5,278 410.5,291 412.5,295 413.5,283 415,291 417,282 419,286 422,291 425,293 428,292 430,299 433,302 436,305 438,309 439.5,306 441.5,301 443.5,304 445.5,308 447.5,302 449,310 451,313 453,315 456,308.5 458.5,310 459.5,315 460,321 462,318 464,328 465.5,322 467,319 469,326 471,334 474,334.5 476,331 478.5,334.5 480.5,340 482,335 484,330.5 486.5,334 489,346 491,342 493,335 494.5,326 496,338 497.5,353 500,342 502,338 504.5,335 506.5,331 508.5,336 511,342 513,339 515.5,335 518,339 520,345 523,342 523,338 525,347 527.5,347.5 529.5,344 531.5,347 533.5,345 535.5,349 537.5,351.5 540,347.5 543,344 545,341.5 546.5,339 548,347 553,347.5 555,353 558,358 561,360.5 563,357 565.5,356 567.5,353 569,347 570.5,356 572,347 573.5,344 575.5,351.5 577.5,348 580.5,347 582,335 582.5,330 583.5,342 585,347 587,344 590,342 592,338.5 594,343 595.5,338 597,342 599,334.5 601.5,338 605,338.5 607,334.5 610,331 614,330 616,325 618,321 621,318 623,316 623,315.5 625,312 627,309.5 631,308.5 632.5,304 635,300 637.5,296 640,292 642.5,288.5 644.5,283 646,278 648,273 649.5,270 651,274 653,270 654.5,274 657.5,274 660,270 663,270.5 664.5,274 666,270 669,270 672,266 674.5,262 678,260 680,257 683,255 685,251" stroke="#8080ff" stroke-width="1" stroke-linejoin="round"/>
<polyline points="189.5,284 192,287 194,291 197,291 198,298 199,291 202,285 207.5,284.5 209,289 210.5,291.5 212.5,298 214,291.5 219.5,291 221.5,285 222.5,291 224.5,285 228,284.5 230,289 231.5,291.5 233,298 235,291.5 244.5,291 245.5,284.5 246.5,291.5 248,298 251,298 252.5,291.5 254,291.5 255.5,298 259,298 261,291.5 262,298 263.5,305 265,298 266,291.5 267.5,291.5 268.5,298 273,298 275,301 276.5,305 278,305 279,298.5 280.5,298.5 282,305 283.5,302 284.5,298.5 288.5,298.5 291,305 299.5,305 301.5,298.5 304.5,298 306,292 307,298 308.5,292 309.5,298 311.5,284.5 315,284 316.5,277 318,271 320.5,270 322,263 323.5,270 325,263 328.5,262.5 330.5,262 332.5,256 336,255.5 337.5,262.5 341,262 343,255.5 345,243 346.5,242 347.5,248 349,241.5 350.5,248 352,249 353.5,255.5 354,251 356,253 357,255 358.5,250 360,248.5 366,248 367.5,241.5 368.5,248 370,241.5 371.5,248 373,241.5 375,242 376.5,248.5 378,255 379.5,248.5 391,248.5 393,255 396,255.5 397.5,262 402,262.5 403.5,269 406.5,270 414,270 415.5,277 423,277.5 424.5,284 426,277.5 428,284 429.5,291 446,291 447,298 448.5,305 450,312 454,312.5 456,315 458,320 463,320.5 464.5,327 468,327.5 469.5,340 472,341 473.5,348 475,354 477,358 478.5,363 480,357 481.5,363 483,357 485,362.5 490,363 492,357 493.5,357 495,363 496.5,357.5 498,363 502,363.5 503.5,371 505,378 508,378.5 509.5,384 516,384.5 518.5,391 523,391.5 523,391.5 526,392 527.5,397.5 528.5,391.5 530,398 532,406 539,406.5 541,413.5 542.5,413 544.5,407 546,411 547.5,420 549.5,414 554,413.5 556,420 558.5,421 560.5,427 565,427.5 567.5,434 569,429 570.5,434.5 573,434 574.5,428 577.5,427 579,421 584,420.5 586,414 592,413.5 593.5,407 594.5,413.5 603,413.5 605,407 609.5,406.5 612,399 615.5,398 617,392 619,385 624.5,384.5 626.5,378 628,370 630.5,364 632,357 638,356.5 639.5,349 642,348 644,342 645.5,335 647,328 648,318 649,316 651,309 653,306 659,305.5 660.5,299 667.5,298.5 669,292 678.5,291.5 680,298 682,298 684,289 686,278" stroke="#ff0080" stroke-width="1" stroke-linejoin="round"/>
<polyline points="190.5,336 191,329 192,325 193.5,328.5 196,326 199,329.5 202,335 205,341 207.5,346 210,349 213,348 215,344 218,342 221,346 224,352 227,355 230.5,356 234,359 237,364 239,370 242,374 244.5,377 246,383 249,388 252,391.5 256,394 259,397.5 261,400 264,398 271,397 281,397 283,398.5 285,401 287,404 289,408 291,411.5 294,414 297,417 301,418 303,422 306,426.5 308,425 312,424 315,421 321,421 323,416 326,410 329.5,404 332,396 334,393 336,384 338,376 340,366 342.5,357 345,346 348,338 351,329 354,318 356,306 358,299 360,291 362,281 364,271 366,264 369,257 371,247 373,235 375,221 376.5,211 378,203 380.5,193 380.5,193 382,176 384,158 386,138 388,120 389.5,102 392,89 394.5,77" stroke="#804000" stroke-width="1" stroke-linejoin="round"/>
<polyline points="539.5,77 541,90 543,100 545.5,112 547,122 548.5,129 550,132.5 552,133.5 555,133.5 556.5,129 558,128 560,129 562,133 565,138 567.5,143 570,147 572.5,151 575,156 577.5,160 580,162.5 582,172 584.5,178 587,175 590,172.5 593,171 598,170.5 600,174 603,177 606,179.5 608,183 612,186 613.5,192.5 613.5,193 617,196 619.5,200 621,205 624,209 626.5,213 628,218 631,222 632.5,228 635,232 638,237 639.5,247 641.5,251 644,257 645.5,262 646.5,269 648.5,273 651,278 653,281.5 656,283.5 659,285 661,282 664,280 666.5,284 669,282 672,279.5 676,278.5 678,282 681,284 685,285.5" stroke="#804000" stroke-width="1" stroke-linejoin="round"/>
<polyline points="189.5,289 192.5,285.5 195,288.5 197.5,289 199,295 202,302 204.5,303.5 207,313 211,314 213.5,309 216.5,307 219,309 221.5,315.5 223,322 226,326 229.5,328.5 233,333 237.5,339 238.5,344 241,348 245,353 250,353 254,359 258,364 261,367.5 264,363.5 267,364 276,364 279.5,360 282,364 283.5,371 285.5,374.5 288,375.5 290,378.5 292,380.5 295.5,381 297.5,386 300,388 304,391.5 307,391.5 309.5,389.5 313,390 316.5,391.5 319.5,388.5 321.5,384 323,376 325,372 328,369 329.5,363 331,355 332.5,352 337,347 339.5,341 343,333 344.5,329.5 347.5,329.5 350.5,327 352.5,322 354,317 355,313 357,309 360,303 363,298 365,293 368,290.5 370,283 373,280 375,277 377,266 379,263 383,261 385,257 386.5,251 388.5,245 390.5,240 393,235 395,232 396,227 398,230 400,226 403,223 406.5,222 408.5,217 409.5,207 411,206 412.5,210.5 414,210 415,202 417,201 420,200 422,195 425,194 429,193 429,190 431,182.5 433,185 436,189.5 440,185 441.5,174 443,177 445,169 447,171 449,168 452,161.5 454,166 455.5,174 457,168 459,167 461,160 464,148 466,151 468,158 469.5,165 472,158 473.5,150 475,158 477,152 480,144 483,138 485,139 487.5,133.5 489,140 490.5,152 492,161 494,158 495.5,150 496.5,136 498,140 499.5,147 502,152 504,156 506.5,159.5 508.5,154 509.5,148 512,146 514,141 516,135 518,138 520,144 521.5,149 523,145 523,134 524.5,126 527,124 528,111 530,112 532.5,113 534,122 535.5,134 537,130 539,129 541,140 543,147 546,152.5 549,152.5 552,149 554.5,146 555.5,128 557,125 558.5,124 560,127 560.5,134 562.5,132 564,127 565.5,126 567,133 570,136 572,143 574,142 575.5,139 577.5,144 580,148 582,151 584,150 587,147.5 590,145.5 593,145 596,148 599,151 602,152 605,156 608,161 611,165 614,167 616,169 618,173 620,177 623,178 626,181 627.5,186 630,188 632.5,192.5 632.5,193 635,197 638,201 639.5,206.5 643,207 645,211 646,219 648,222.5 651,224 654,224 656,226 659,229 664,229.5 667,233 671,234 673,239 676,244 679,249.5 682,250 685,252 686,254" stroke="#008000" stroke-width="2" stroke-linejoin="round"/>
<line x1="189" y1="505.5" x2="686" y2="505.5" stroke="#ff8000" stroke-width="1" stroke-dasharray="2 1"/>
</g>
<rect x="187" y="75" width="2" height="432" fill="#808080"/>
<rect x="187" y="75" width="502" height="2" fill="#808080"/>
<rect x="686" y="75" width="3" height="432" fill="#808080"/>
<rect x="184" y="506" width="509" height="1" fill="#808080"/>
<rect x="188" y="506" width="1" height="5" fill="#808080"/>
<text transform="translate(188.5 525) scale(0.865 1)" fill="#000" text-anchor="middle">00:00</text>
<rect x="230" y="506" width="1" height="5" fill="#808080"/>
<text transform="translate(230.5 525) scale(0.865 1)" fill="#000" text-anchor="middle">02:00</text>
<rect x="271" y="506" width="1" height="5" fill="#808080"/>
<text transform="translate(271.5 525) scale(0.865 1)" fill="#000" text-anchor="middle">04:00</text>
<rect x="313" y="506" width="1" height="5" fill="#808080"/>
<text transform="translate(313.5 525) scale(0.865 1)" fill="#000" text-anchor="middle">06:00</text>
<rect x="355" y="506" width="1" height="5" fill="#808080"/>
<text transform="translate(355.5 525) scale(0.865 1)" fill="#000" text-anchor="middle">08:00</text>
<rect x="396" y="506" width="1" height="5" fill="#808080"/>
<text transform="translate(396.5 525) scale(0.865 1)" fill="#000" text-anchor="middle">10:00</text>
<rect x="438" y="506" width="1" height="5" fill="#808080"/>
<text transform="translate(438.5 525) scale(0.865 1)" fill="#000" text-anchor="middle">12:00</text>
<rect x="480" y="506" width="1" height="5" fill="#808080"/>
<text transform="translate(480.5 525) scale(0.865 1)" fill="#000" text-anchor="middle">14:00</text>
<rect x="521" y="506" width="1" height="5" fill="#808080"/>
<text transform="translate(521.5 525) scale(0.865 1)" fill="#000" text-anchor="middle">16:00</text>
<rect x="563" y="506" width="1" height="5" fill="#808080"/>
<text transform="translate(563.5 525) scale(0.865 1)" fill="#000" text-anchor="middle">18:00</text>
<rect x="605" y="506" width="1" height="5" fill="#808080"/>
<text transform="translate(605.5 525) scale(0.865 1)" fill="#000" text-anchor="middle">20:00</text>
<rect x="646" y="506" width="1" height="5" fill="#808080"/>
<text transform="translate(646.5 525) scale(0.865 1)" fill="#000" text-anchor="middle">22:00</text>
<rect x="688" y="506" width="1" height="5" fill="#808080"/>
<text transform="translate(688.5 525) scale(0.865 1)" fill="#000" text-anchor="middle">24:00</text>
<rect x="299" y="502" width="2" height="13" fill="#ffff00"/>
<rect x="637" y="502" width="2" height="13" fill="#ffff00"/>
<rect x="389" y="506" width="2" height="9" fill="#808080"/>
<rect x="673" y="502" width="2" height="13" fill="#808080"/>
<text transform="translate(10.5 536) scale(0.865 1)" fill="#000">16:12</text>
<path d="M40 535 V532 H41 V530 H43 V529 H46 V530 H48 V532 H49 V535 Z" style="fill:#ffff00;shape-rendering:crispEdges"/>
<rect x="42" y="533" width="1" height="1" fill="#ffc000"/><rect x="45" y="532" width="1" height="1" fill="#ffc000"/>
<text transform="translate(266.5 536) scale(0.865 1)" fill="#000">05:23</text>
<ellipse cx="300.7" cy="532" rx="4.6" ry="5.2" fill="none" stroke="#ffff90" stroke-width="1.2" stroke-dasharray="2.2 1.2"/>
<ellipse cx="300" cy="532" rx="3.1" ry="2.9" fill="#ffff00"/>
<text transform="translate(397 536) scale(0.865 1)" fill="#000">09:41</text>
<rect x="385.5" y="526.5" width="5" height="5" fill="none" stroke="#d8d8f8" stroke-width="1"/>
<rect x="385" y="526" width="1" height="1" fill="#2020a0"/>
<rect x="390" y="526" width="1" height="1" fill="#2020a0"/>
<rect x="385" y="531" width="1" height="1" fill="#2020a0"/>
<path d="M392.5 527.5 L396.2 534.5 L394 534.5 L394 537 L391 537 L391 534.5 L388.8 534.5 Z" style="fill:#ffff00"/>
<path d="M392.2 527.8 L389 534.2" style="stroke:#000;stroke-width:1.2;shape-rendering:auto"/>
<path d="M393.2 528.8 L396 534" style="stroke:#8080e0;stroke-width:0.8;shape-rendering:auto"/>
<path d="M392 534 V537 M393 534 V537" style="stroke:#c0c000;stroke-width:0.6;shape-rendering:auto"/>
<text transform="translate(604.5 536) scale(0.865 1)" fill="#000">21:35</text>
<rect x="635.5" y="529.5" width="5" height="5" fill="none" stroke="#ffff40" stroke-width="1"/>
<text transform="translate(681 536) scale(0.865 1)" fill="#000">23:18</text>
<path d="M674.5 537 V533.5 H679.5 V537" style="stroke:#d8d8f8;stroke-width:1"/>
<rect x="674" y="533" width="1" height="1" fill="#2020a0"/>
<rect x="679" y="533" width="1" height="1" fill="#2020a0"/>
<path d="M671 526 L674 526 L674 528.5 L675.8 528.5 L672.5 535 L669.2 528.5 L671 528.5 Z" style="fill:#ffff00"/>
<path d="M675.5 528.8 L672.7 534.6" style="stroke:#000;stroke-width:1.2;shape-rendering:auto"/>
<path d="M669.5 528.8 L672 534" style="stroke:#8080e0;stroke-width:0.8;shape-rendering:auto"/>
<path d="M672 526 V529 M673 526 V529" style="stroke:#c0c000;stroke-width:0.6;shape-rendering:auto"/>
<rect x="1" y="539" width="844" height="76" fill="#c0c0c0"/>
<rect x="87" y="539" width="1" height="76" fill="#ffffff"/>
<rect x="88" y="539" width="1" height="76" fill="#a09c88"/>
<rect x="204" y="539" width="1" height="76" fill="#ffffff"/>
<rect x="205" y="539" width="1" height="76" fill="#a09c88"/>
<rect x="322" y="539" width="1" height="76" fill="#ffffff"/>
<rect x="323" y="539" width="1" height="76" fill="#a09c88"/>
<rect x="440" y="539" width="1" height="76" fill="#ffffff"/>
<rect x="441" y="539" width="1" height="76" fill="#a09c88"/>
<rect x="558" y="539" width="1" height="76" fill="#ffffff"/>
<rect x="559" y="539" width="1" height="76" fill="#a09c88"/>
<rect x="676" y="539" width="1" height="76" fill="#ffffff"/>
<rect x="677" y="539" width="1" height="76" fill="#a09c88"/>
<rect x="794" y="539" width="1" height="76" fill="#ffffff"/>
<rect x="795" y="539" width="1" height="76" fill="#a09c88"/>
<rect x="844" y="538" width="1" height="77" fill="#a09c88"/>
<text transform="translate(8.5 557) scale(0.93 1)" fill="#000" font-weight="bold">Sensor</text>
<text transform="translate(8.5 573) scale(0.93 1)" fill="#000" font-weight="bold">MinWert</text>
<text transform="translate(8.5 589) scale(0.93 1)" fill="#000" font-weight="bold">MaxWert</text>
<text transform="translate(8.5 605) scale(0.93 1)" fill="#000" font-weight="bold">Durchschnitt</text>
<text transform="translate(8.5 621) scale(0.93 1)" fill="#000" font-weight="bold">01.07. 23:55</text>
<text transform="translate(95 557) scale(0.97 1)" fill="#000" font-weight="bold">T- 2m aktiv</text>
<text transform="translate(198.5 557) scale(0.93 1)" fill="#000" text-anchor="end" font-weight="bold">°C</text>
<text transform="translate(100.5 573) scale(0.865 1)" fill="#000">05:35</text>
<text transform="translate(198.5 573) scale(0.865 1)" fill="#000" text-anchor="end">11.3</text>
<text transform="translate(100.5 589) scale(0.865 1)" fill="#000">16:20</text>
<text transform="translate(198.5 589) scale(0.865 1)" fill="#000" text-anchor="end">24.4</text>
<text transform="translate(100.5 605) scale(0.865 1)" fill="#000">( - 1.09 )</text>
<text transform="translate(198.5 605) scale(0.865 1)" fill="#000" text-anchor="end">18.41</text>
<text transform="translate(198.5 621) scale(0.93 1)" fill="#000" text-anchor="end" font-weight="bold">17.7</text>
<text transform="translate(212.5 557) scale(0.955 1)" fill="#000" font-weight="bold">F- 2m aktiv</text>
<text transform="translate(316.5 557) scale(0.93 1)" fill="#000" text-anchor="end" font-weight="bold">%</text>
<text transform="translate(218.5 573) scale(0.865 1)" fill="#000">17:50</text>
<text transform="translate(316.5 573) scale(0.865 1)" fill="#000" text-anchor="end">34</text>
<text transform="translate(218.5 589) scale(0.865 1)" fill="#000">05:45</text>
<text transform="translate(316.5 589) scale(0.865 1)" fill="#000" text-anchor="end">91</text>
<text transform="translate(316.5 605) scale(0.865 1)" fill="#000" text-anchor="end">59</text>
<text transform="translate(215.5 621) scale(0.865 1)" fill="#000">9.01 g/m³</text>
<text transform="translate(316.5 621) scale(0.93 1)" fill="#000" text-anchor="end" font-weight="bold">59</text>
<text transform="translate(330.5 557) scale(0.93 1)" fill="#000" font-weight="bold">Luftdruck</text>
<text transform="translate(434.5 557) scale(0.93 1)" fill="#000" text-anchor="end" font-weight="bold">hPa</text>
<text transform="translate(336.5 573) scale(0.865 1)" fill="#000">18:10</text>
<text transform="translate(434.5 573) scale(0.865 1)" fill="#000" text-anchor="end">1015.0</text>
<text transform="translate(336.5 589) scale(0.865 1)" fill="#000">07:35</text>
<text transform="translate(434.5 589) scale(0.865 1)" fill="#000" text-anchor="end">1017.7</text>
<text transform="translate(331 605) scale(0.865 1)" fill="#000">^0.8hPa/h</text>
<text transform="translate(434.5 605) scale(0.865 1)" fill="#000" text-anchor="end">1016.6</text>
<text transform="translate(352 621) scale(0.865 1)" fill="#000">-.-</text>
<text transform="translate(434.5 621) scale(0.93 1)" fill="#000" text-anchor="end" font-weight="bold">◆1017.3</text>
<text transform="translate(448 557) scale(0.93 1)" fill="#000" font-weight="bold">Windböen</text>
<text transform="translate(552.5 557) scale(0.93 1)" fill="#000" text-anchor="end" font-weight="bold">km/h</text>
<text transform="translate(448.5 573) scale(0.865 1)" fill="#000">Ø 10 min.</text>
<text transform="translate(552.5 573) scale(0.865 1)" fill="#000" text-anchor="end">8.9</text>
<text transform="translate(454.5 589) scale(0.865 1)" fill="#000">12:40</text>
<text transform="translate(552.5 589) scale(0.865 1)" fill="#000" text-anchor="end">NO 14.5</text>
<text transform="translate(552.5 605) scale(0.865 1)" fill="#000" text-anchor="end">5.8</text>
<text transform="translate(454.5 621) scale(0.865 1)" fill="#000">3 Bft NO</text>
<text transform="translate(552.5 621) scale(0.93 1)" fill="#000" text-anchor="end" font-weight="bold">0.0</text>
<text transform="translate(566.5 557) scale(0.93 1)" fill="#000" font-weight="bold">Regen</text>
<text transform="translate(670.5 557) scale(0.93 1)" fill="#000" text-anchor="end" font-weight="bold">l/m²</text>
<text transform="translate(567 573) scale(0.865 1)" fill="#000">3:15 h</text>
<text transform="translate(572.5 589) scale(0.865 1)" fill="#000">00:05</text>
<text transform="translate(670.5 589) scale(0.865 1)" fill="#000" text-anchor="end">0.0</text>
<text transform="translate(567 605) scale(0.865 1)" fill="#000">Gesamt:</text>
<text transform="translate(670.5 605) scale(0.865 1)" fill="#000" text-anchor="end">0.0</text>
<text transform="translate(569 621) scale(0.865 1)" fill="#000">0.0 l/m²</text>
<text transform="translate(670.5 621) scale(0.93 1)" fill="#000" text-anchor="end" font-weight="bold">0.0</text>
<text transform="translate(685 557) scale(0.97 1)" fill="#000" font-weight="bold">PMV+2:16</text>
<text transform="translate(684.5 573) scale(0.865 1)" fill="#000">WC 17.7 °C</text>
<text transform="translate(685 589) scale(0.865 1)" fill="#000">TP 9.6 °C</text>
<text transform="translate(685 605) scale(0.865 1)" fill="#000">1.5hPa/3h</text>
<text transform="translate(685 621) scale(0.865 1)" fill="#000">0.2hPa/1h</text>
</svg>
</body>
</html>
